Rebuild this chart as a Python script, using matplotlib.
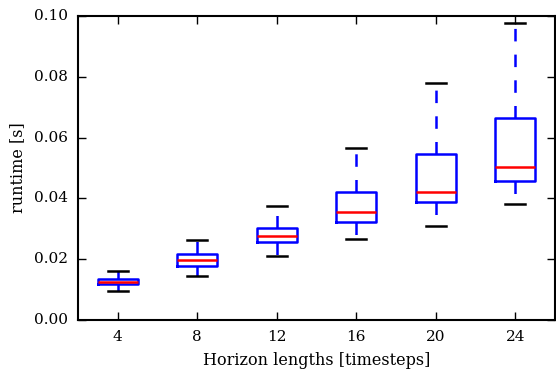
import matplotlib
matplotlib.use('Agg')
import matplotlib.pyplot as plt

# DATA
horizons = ['4', '8', '12', '16', '20', '24']
whislo = [0.0095, 0.0145, 0.0211, 0.0266, 0.0309, 0.0382]
q1 = [0.0119, 0.0178, 0.0256, 0.0321, 0.0387, 0.0457]
med = [0.0126, 0.0197, 0.0277, 0.0354, 0.0422, 0.0504]
q3 = [0.0136, 0.0217, 0.0304, 0.0420, 0.0545, 0.0666]
whishi = [0.0161, 0.0263, 0.0376, 0.0565, 0.0781, 0.0976]

plt.style.use('classic')
plt.rcParams['font.family'] = ['DejaVu Serif']
plt.rcParams['font.size'] = 11

stats = []
for lab, lo, a, m, b, hi in zip(horizons, whislo, q1, med, q3, whishi):
    stats.append(dict(label=lab, whislo=lo, q1=a, med=m, q3=b, whishi=hi, fliers=[]))

fig = plt.figure(figsize=(5.56, 3.73), dpi=100, facecolor='white')
ax = fig.add_axes([78 / 556, 1 - 320 / 373, 477 / 556, 304 / 373])

ax.bxp(stats, widths=0.5,
       boxprops=dict(color='blue', linewidth=1.8),
       whiskerprops=dict(color='blue', linewidth=1.8, linestyle='--', dashes=(9, 9.5)),
       capprops=dict(color='black', linewidth=1.8),
       medianprops=dict(color='red', linewidth=1.8))

ax.set_ylim(0, 0.1)
ax.set_xlim(0.5, 6.5)
ax.set_yticks([0.0, 0.02, 0.04, 0.06, 0.08, 0.10])
ax.set_yticklabels(['0.00', '0.02', '0.04', '0.06', '0.08', '0.10'])
ax.set_xlabel('Horizon lengths [timesteps]', fontsize=11.5, labelpad=6)
ax.set_ylabel('runtime [s]', fontsize=11.5, labelpad=6)
for s in ax.spines.values():
    s.set_linewidth(1.5)
ax.tick_params(direction='in', length=6, width=1, pad=7)

fig.savefig('out.png', dpi=100, facecolor='white')
